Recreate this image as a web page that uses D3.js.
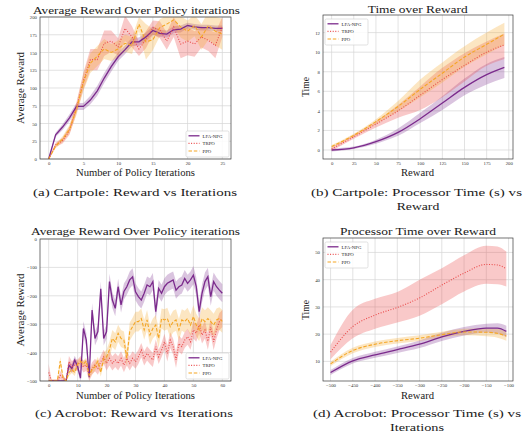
<!DOCTYPE html>
<html>
<head>
<meta charset="utf-8">
<script src="https://cdn.jsdelivr.net/npm/d3@7"></script>
<style>
body { margin: 0; background: #fff; }
svg { display: block; }
</style>
</head>
<body>
<div id="chart"></div>
<script>
// ---------- data ----------
const algos = ["LFA-NPG", "TRPO", "PPO"];

// (a) Cartpole: reward per policy iteration (index = iteration)
const a_lfa = [0, 34, 45, 58, 74, 74, 83, 96, 114, 130, 144, 154, 165, 165, 172, 181, 177, 176, 182, 183, 188, 186, 185, 185, 184, 184];
const a_lfa_sd = [1, 3, 4, 5, 5, 5, 6, 7, 7, 7, 6, 6, 6, 6, 6, 6, 5, 5, 5, 5, 4, 4, 4, 4, 4, 4];
const a_trpo = [0, 20, 26, 40, 72, 110, 140, 140, 163, 166, 158, 184, 172, 155, 168, 185, 182, 166, 186, 162, 166, 162, 172, 167, 160, 186];
const a_trpo_sd = [1, 3, 4, 6, 8, 12, 15, 15, 18, 15, 12, 18, 15, 10, 12, 10, 12, 12, 14, 20, 20, 18, 15, 15, 18, 14];
const a_ppo = [0, 18, 28, 42, 70, 108, 135, 145, 155, 150, 155, 163, 160, 190, 165, 168, 185, 190, 196, 186, 180, 188, 172, 188, 180, 176];
const a_ppo_sd = [1, 3, 4, 6, 8, 12, 14, 14, 14, 12, 12, 12, 12, 10, 25, 15, 12, 12, 10, 15, 15, 15, 18, 20, 20, 22];
const a_xticks = [0, 5, 10, 15, 20, 25];
const a_yticks = [0, 25, 50, 75, 100, 125, 150, 175, 200];

// (b) Cartpole: processor time over reward
const b_reward = [0, 25, 50, 75, 100, 125, 150, 175, 195];
const b_lfa = [0.0, 0.22, 0.85, 1.8, 3.2, 4.8, 6.4, 7.7, 8.45];
const b_lfa_lo = [-0.15, 0.1, 0.65, 1.45, 2.75, 4.1, 5.6, 6.7, 7.35];
const b_lfa_hi = [0.15, 0.35, 1.05, 2.2, 3.8, 5.5, 7.3, 8.8, 9.5];
const b_trpo = [0.1, 1.35, 2.65, 4.0, 5.6, 7.2, 8.65, 10.0, 10.75];
const b_trpo_lo = [-0.1, 1.15, 2.3, 3.3, 4.1, 5.4, 7.0, 8.6, 9.3];
const b_trpo_hi = [0.3, 1.55, 2.95, 4.6, 6.5, 8.4, 9.9, 11.1, 11.9];
const b_ppo = [0.35, 1.5, 2.9, 4.45, 6.2, 7.85, 9.5, 10.8, 11.85];
const b_ppo_lo = [0.2, 1.35, 2.65, 3.95, 5.4, 6.9, 8.5, 9.8, 10.7];
const b_ppo_hi = [0.5, 1.65, 3.15, 5.0, 7.2, 8.95, 10.6, 12.0, 13.0];
const b_xticks = [0, 25, 50, 75, 100, 125, 150, 175, 200];
const b_yticks = [0, 2, 4, 6, 8, 10, 12];

// (c) Acrobot: reward per policy iteration (index = iteration)
const c_lfa = [-500, -500, -500, -500, -500, -500, -500, -444, -456, -426, -449, -490, -315, -356, -487, -250, -350, -326, -175, -350,
  -326, -150, -215, -244, -168, -232, -185, -168, -144, -133, -186, -203, -215, -191, -162, -168, -150, -256, -174, -191,
  -168, -156, -150, -144, -180, -168, -162, -139, -156, -144, -127, -168, -256, -191, -150, -133, -203, -150, -168, -180, -191];
const c_lfa_sd = [0, 0, 0, 0, 0, 0, 0, 15, 15, 15, 15, 12, 25, 25, 12, 25, 25, 25, 25, 25,
  25, 28, 28, 28, 28, 28, 28, 28, 30, 30, 30, 30, 30, 30, 30, 30, 30, 30, 30, 30,
  30, 30, 30, 30, 30, 30, 30, 30, 30, 30, 32, 32, 32, 32, 32, 32, 32, 32, 32, 32, 32];
const c_trpo = [-470, -500, -500, -500, -480, -490, -500, -432, -450, -444, -444, -432, -450, -444, -480, -456, -444, -456, -432, -415,
  -438, -420, -438, -426, -438, -420, -444, -420, -438, -420, -432, -415, -391, -420, -403, -415, -426, -379, -415, -391,
  -362, -403, -356, -379, -426, -368, -379, -356, -344, -362, -320, -332, -303, -338, -320, -360, -309, -362, -320, -291, -280];
const c_trpo_sd = [30, 5, 5, 5, 15, 10, 5, 20, 20, 20, 20, 20, 20, 20, 20, 22, 22, 22, 22, 25,
  25, 25, 25, 25, 25, 25, 25, 25, 25, 25, 25, 25, 25, 25, 25, 25, 25, 25, 25, 25,
  28, 28, 28, 28, 28, 28, 28, 28, 28, 28, 30, 30, 30, 30, 30, 30, 30, 30, 30, 30, 30];
const c_ppo = [-500, -500, -500, -500, -430, -490, -500, -470, -460, -470, -440, -430, -440, -430, -480, -460, -450, -430, -470, -420,
  -415, -390, -350, -362, -332, -350, -356, -420, -326, -309, -291, -291, -280, -320, -285, -338, -315, -303, -350, -280,
  -285, -280, -309, -291, -285, -320, -285, -291, -280, -303, -273, -303, -320, -280, -291, -280, -291, -303, -285, -280, -290];
const c_ppo_sd = [5, 5, 5, 5, 15, 8, 5, 12, 12, 12, 12, 12, 12, 12, 12, 15, 15, 15, 15, 20,
  25, 28, 30, 30, 30, 30, 30, 30, 32, 32, 35, 35, 35, 35, 35, 35, 35, 35, 35, 35,
  38, 38, 38, 38, 38, 38, 38, 38, 38, 38, 40, 40, 40, 40, 40, 40, 40, 40, 40, 40, 40];
const c_xticks = [0, 10, 20, 30, 40, 50, 60];
const c_yticks = [-500, -400, -300, -200, -100, 0];

// (d) Acrobot: processor time over reward
const d_reward = [-500, -450, -400, -350, -300, -250, -200, -150, -125, -105];
const d_lfa = [5.9, 10.2, 12.4, 14.3, 16.3, 19.0, 21.0, 22.2, 22.2, 21.0];
const d_lfa_lo = [5.0, 9.2, 11.3, 13.1, 14.9, 17.5, 19.5, 20.6, 20.2, 18.9];
const d_lfa_hi = [6.8, 11.2, 13.5, 15.5, 17.7, 20.5, 22.6, 23.8, 24.0, 23.1];
const d_trpo = [13.4, 22.8, 27.0, 29.8, 33.3, 38.0, 42.4, 45.6, 45.4, 44.0];
const d_trpo_lo = [10.8, 18.5, 22.0, 24.3, 26.8, 31.0, 35.7, 38.5, 38.3, 37.5];
const d_trpo_hi = [16.0, 29.0, 33.0, 35.5, 40.0, 44.2, 49.0, 52.5, 52.2, 50.3];
const d_ppo = [9.1, 14.0, 16.3, 17.6, 18.5, 19.8, 20.8, 20.7, 20.3, 19.3];
const d_ppo_lo = [8.3, 13.0, 15.3, 16.6, 17.5, 18.8, 19.6, 19.2, 18.7, 17.6];
const d_ppo_hi = [9.9, 15.0, 17.3, 18.6, 19.6, 20.9, 22.0, 22.1, 21.9, 21.0];
const d_xticks = [-500, -450, -400, -350, -300, -250, -200, -150, -100];
const d_yticks = [10, 20, 30, 40, 50];

// ---------- styles ----------
const FONT = "'Liberation Serif', 'DejaVu Serif', serif";
const lineColor = {"LFA-NPG": "#7b2a8c", "TRPO": "#ea4c4c", "PPO": "#f5a623"};
const bandOpacity = {"LFA-NPG": 0.28, "TRPO": 0.3, "PPO": 0.28};
const dash = {"LFA-NPG": null, "TRPO": "1,1.6", "PPO": "3.5,1.8"};
const lineWidth = {"LFA-NPG": 1.3, "TRPO": 1.1, "PPO": 1.1};

const svg = d3.select("#chart")
  .append("svg")
  .attr("width", 532)
  .attr("height", 437);

svg.append("rect").attr("width", 532).attr("height", 437).attr("fill", "#fff");

function addText(x, y, str, size, width, rotate) {
  const t = svg.append("text")
    .attr("x", x).attr("y", y)
    .attr("text-anchor", "middle")
    .attr("font-family", FONT)
    .attr("font-size", size)
    .attr("fill", "#1a1a1a")
    .text(str);
  if (width) t.attr("textLength", width).attr("lengthAdjust", "spacingAndGlyphs");
  if (rotate) t.attr("transform", `rotate(-90,${x},${y})`);
  return t;
}

function makePanel(p) {
  const g = svg.append("g");
  const x = d3.scaleLinear().domain(p.xDomain).range([p.left, p.right]);
  const y = d3.scaleLinear().domain(p.yDomain).range([p.bottom, p.top]);

  // grid
  g.append("g").selectAll("line").data(p.xTicks).join("line")
    .attr("x1", d => x(d)).attr("x2", d => x(d))
    .attr("y1", p.top).attr("y2", p.bottom)
    .attr("stroke", "#d6d6d6").attr("stroke-width", 0.7);
  g.append("g").selectAll("line").data(p.yTicks).join("line")
    .attr("x1", p.left).attr("x2", p.right)
    .attr("y1", d => y(d)).attr("y2", d => y(d))
    .attr("stroke", "#d6d6d6").attr("stroke-width", 0.7);

  // axes (labels only)
  g.append("g").attr("transform", `translate(0,${p.bottom})`)
    .call(d3.axisBottom(x).tickValues(p.xTicks).tickSize(0).tickPadding(2.6))
    .call(a => a.select(".domain").remove())
    .attr("font-family", FONT).attr("font-size", 4.8)
    .selectAll("text").attr("fill", "#333");
  g.append("g").attr("transform", `translate(${p.left},0)`)
    .call(d3.axisLeft(y).tickValues(p.yTicks).tickSize(0).tickPadding(3))
    .call(a => a.select(".domain").remove())
    .attr("font-family", FONT).attr("font-size", 4.8)
    .selectAll("text").attr("fill", "#333");

  svg.append("clipPath").attr("id", "clip" + p.id)
    .append("rect")
    .attr("x", p.left).attr("y", p.top)
    .attr("width", p.right - p.left).attr("height", p.bottom - p.top);

  const plot = g.append("g").attr("clip-path", `url(#clip${p.id})`);
  const bands = plot.append("g");
  const lines = plot.append("g");

  return {p, g, x, y, bands, lines};
}

function drawSeries(P, xs, mean, lo, hi, name, curve) {
  const pts = xs.map((v, i) => ({x: v, m: mean[i], lo: lo[i], hi: hi[i]}));
  const area = d3.area().curve(curve)
    .x(d => P.x(d.x)).y0(d => P.y(d.lo)).y1(d => P.y(d.hi));
  const line = d3.line().curve(curve)
    .x(d => P.x(d.x)).y(d => P.y(d.m));
  P.bands.append("path").datum(pts)
    .attr("d", area)
    .attr("fill", lineColor[name])
    .attr("fill-opacity", bandOpacity[name]);
  P.lines.append("path").datum(pts)
    .attr("d", line)
    .attr("fill", "none")
    .attr("stroke", lineColor[name])
    .attr("stroke-width", lineWidth[name])
    .attr("stroke-dasharray", dash[name]);
}

function finishPanel(P) {
  const p = P.p;
  P.g.append("rect")
    .attr("x", p.left).attr("y", p.top)
    .attr("width", p.right - p.left).attr("height", p.bottom - p.top)
    .attr("fill", "none").attr("stroke", "#3a3a3a").attr("stroke-width", 0.7);
}

function drawLegend(P, bx, by) {
  const lg = P.g.append("g").attr("transform", `translate(${bx},${by})`);
  lg.append("rect").attr("width", 43).attr("height", 26).attr("rx", 1.5)
    .attr("fill", "#fff").attr("fill-opacity", 0.85)
    .attr("stroke", "#cfcfcf").attr("stroke-width", 0.6);
  const row = lg.selectAll("g").data(algos).join("g")
    .attr("transform", (d, i) => `translate(0,${4.8 + i * 7.6})`);
  row.append("line")
    .attr("x1", 2.5).attr("x2", 13.5)
    .attr("stroke", d => lineColor[d])
    .attr("stroke-width", d => lineWidth[d])
    .attr("stroke-dasharray", d => dash[d]);
  row.append("text")
    .attr("x", 16.5).attr("y", 1.7)
    .attr("font-family", FONT).attr("font-size", 4.8).attr("fill", "#222")
    .text(d => d);
}

const idx = arr => arr.map((v, i) => i);
const minus = (m, s) => m.map((v, i) => v - s[i]);
const plus = (m, s) => m.map((v, i) => v + s[i]);

// ---------- (a) ----------
const A = makePanel({id: "a", left: 40, right: 231, top: 17, bottom: 159,
  xDomain: [-1.25, 26.25], yDomain: [0, 200], xTicks: a_xticks, yTicks: a_yticks});
drawSeries(A, idx(a_lfa), a_lfa, minus(a_lfa, a_lfa_sd), plus(a_lfa, a_lfa_sd), "LFA-NPG", d3.curveLinear);
drawSeries(A, idx(a_trpo), a_trpo, minus(a_trpo, a_trpo_sd), plus(a_trpo, a_trpo_sd), "TRPO", d3.curveLinear);
drawSeries(A, idx(a_ppo), a_ppo, minus(a_ppo, a_ppo_sd), plus(a_ppo, a_ppo_sd), "PPO", d3.curveLinear);
finishPanel(A);
drawLegend(A, 186, 131);

// ---------- (b) ----------
const B = makePanel({id: "b", left: 323, right: 513, top: 15, bottom: 159,
  xDomain: [-9.75, 204.75], yDomain: [-0.92, 13.8], xTicks: b_xticks, yTicks: b_yticks});
drawSeries(B, b_reward, b_lfa, b_lfa_lo, b_lfa_hi, "LFA-NPG", d3.curveMonotoneX);
drawSeries(B, b_reward, b_trpo, b_trpo_lo, b_trpo_hi, "TRPO", d3.curveMonotoneX);
drawSeries(B, b_reward, b_ppo, b_ppo_lo, b_ppo_hi, "PPO", d3.curveMonotoneX);
finishPanel(B);
drawLegend(B, 325, 19);

// ---------- (c) ----------
const C = makePanel({id: "c", left: 40, right: 231, top: 239, bottom: 381,
  xDomain: [-3, 63], yDomain: [-500, 0], xTicks: c_xticks, yTicks: c_yticks});
drawSeries(C, idx(c_lfa), c_lfa, minus(c_lfa, c_lfa_sd), plus(c_lfa, c_lfa_sd), "LFA-NPG", d3.curveLinear);
drawSeries(C, idx(c_trpo), c_trpo, minus(c_trpo, c_trpo_sd), plus(c_trpo, c_trpo_sd), "TRPO", d3.curveLinear);
drawSeries(C, idx(c_ppo), c_ppo, minus(c_ppo, c_ppo_sd), plus(c_ppo, c_ppo_sd), "PPO", d3.curveLinear);
finishPanel(C);
drawLegend(C, 186, 353);

// ---------- (d) ----------
const D = makePanel({id: "d", left: 323, right: 513, top: 238, bottom: 381,
  xDomain: [-517, -90], yDomain: [2.8, 55.3], xTicks: d_xticks, yTicks: d_yticks});
drawSeries(D, d_reward, d_lfa, d_lfa_lo, d_lfa_hi, "LFA-NPG", d3.curveMonotoneX);
drawSeries(D, d_reward, d_trpo, d_trpo_lo, d_trpo_hi, "TRPO", d3.curveMonotoneX);
drawSeries(D, d_reward, d_ppo, d_ppo_lo, d_ppo_hi, "PPO", d3.curveMonotoneX);
finishPanel(D);
drawLegend(D, 325, 242);

// ---------- titles, labels, captions ----------
addText(136.5, 13.6, "Average Reward Over Policy iterations", 11, 207);
addText(417.7, 13.2, "Time over Reward", 11, 100);
addText(135.5, 234.8, "Average Reward Over Policy iterations", 11, 209);
addText(418, 234.8, "Processor Time over Reward", 11, 156);

addText(135.5, 175.7, "Number of Policy Iterations", 10.2, 119);
addText(417.5, 175.7, "Reward", 10.2, 33);
addText(135.5, 399, "Number of Policy Iterations", 10.2, 119);
addText(417.5, 399, "Reward", 10.2, 33);

addText(24, 88, "Average Reward", 10.2, 72, true);
addText(309, 87, "Time", 10.2, 20, true);
addText(24, 310, "Average Reward", 10.2, 73, true);
addText(309, 310, "Time", 10.2, 20, true);

addText(135, 196, "(a) Cartpole: Reward vs Iterations", 11, 204);
addText(416.5, 196, "(b) Cartpole: Processor Time (s) vs", 11, 211);
addText(418, 210, "Reward", 11, 42.6);
addText(134, 417.3, "(c) Acrobot: Reward vs Iterations", 11, 198);
addText(417, 417.3, "(d) Acrobot: Processor Time (s) vs", 11, 208);
addText(417, 431.3, "Iterations", 11, 54);
</script>
</body>
</html>
